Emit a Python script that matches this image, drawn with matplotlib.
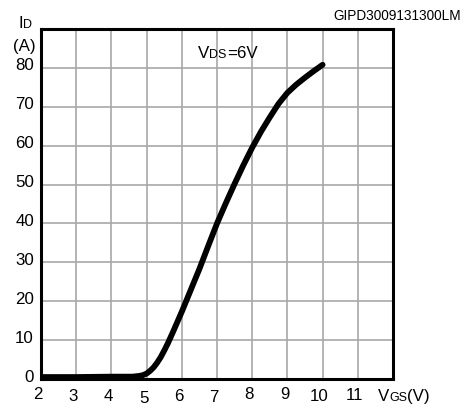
import matplotlib
matplotlib.use("Agg")
import matplotlib.pyplot as plt
from matplotlib.transforms import blended_transform_factory as blend

plt.rcParams["font.family"] = ["Liberation Sans", "DejaVu Sans"]

# transfer characteristic
vgs = [2.0, 3.0, 4.0, 4.6, 4.8, 4.9, 5.0, 5.1, 5.2, 5.3, 5.4, 5.5, 5.6, 5.75, 6.0,
       6.25, 6.5, 6.75, 7.0, 7.25, 7.5, 7.75, 8.0, 8.25, 8.5, 8.75, 9.0, 9.25,
       9.5, 9.75, 10.0]
i_d = [0.5, 0.5, 0.6, 0.6, 0.8, 1.0, 1.4, 2.1, 3.0, 4.2, 5.6, 7.3, 9.1, 12.1, 17.3,
       22.8, 28.3, 34.2, 40.0, 45.2, 50.2, 55.0, 59.5, 63.6, 67.3, 70.8, 73.6, 75.7,
       77.5, 79.2, 80.8]

x_ticks = [2, 3, 4, 5, 6, 7, 8, 9, 10, 11]
x_labels = ["2", "3", "4", "5", "6", "7", "8", "9", "10", "11"]
x_label_dy = [-1, -3, -3, -5, -3, -4, -1, -1, -3, -2]  # staggered in the original
y_ticks = [0, 10, 20, 30, 40, 50, 60, 70, 80]
y_labels = ["0", "10", "20", "30", "40", "50", "60", "70", "80"]

W, H = 469, 408
fig = plt.figure(figsize=(W / 100, H / 100), dpi=100)
L, R, T, B = 41, 393, 29, 379
ax = fig.add_axes([L / W, 1 - B / H, (R - L) / W, (B - T) / H])
ax.set_xlim(2, 12)
ax.set_ylim(0, 90)
ax.set_xticks(range(2, 13))
ax.set_yticks(range(0, 91, 10))
ax.grid(True, color="#a8a8a8", lw=1.2)
ax.tick_params(length=0, labelbottom=False, labelleft=False)
for s in ax.spines.values():
    s.set_linewidth(2.2)
    s.set_color("black")

ax.plot(vgs, i_d, color="black", lw=4.2, solid_capstyle="round",
        solid_joinstyle="round", zorder=5)

fs = 12.2
sub = 9.0
tb = blend(ax.transData, ax.transAxes)
for v, lab, dy in zip(x_ticks, x_labels, x_label_dy):
    ax.annotate(lab, (v, 0), xycoords=tb, xytext=(-3, -7 + dy), textcoords="offset pixels",
                ha="center", va="top", fontsize=fs, annotation_clip=False)
tl = blend(ax.transAxes, ax.transData)
for v, lab in zip(y_ticks, y_labels):
    ax.annotate(lab, (0, v), xycoords=tl, xytext=(-7, 2), textcoords="offset pixels",
                ha="right", va="center", fontsize=fs, annotation_clip=False)

def px(x, y):
    return x / W, 1 - y / H

rend = fig.canvas.get_renderer()

def chain(x, y, parts):
    # pieces set one after another on a common baseline (pixel coords, top-left origin)
    for s, size in parts:
        t = fig.text(*px(x, y), s, fontsize=size, ha="left", va="baseline")
        x += t.get_window_extent(rend).width

chain(378, 401, [("V", fs), ("GS", sub), ("(V)", fs)])
chain(18, 28, [("I", fs), ("D", sub)])
fig.text(*px(13, 51), "(A)", fontsize=fs, ha="left", va="baseline")
chain(198, 58, [("V", fs), ("DS", sub), ("=6V", fs)])
fig.text(*px(461, 20), "GIPD3009131300LM", fontsize=9.8, va="baseline", ha="right")

fig.savefig("out.png", dpi=100)
